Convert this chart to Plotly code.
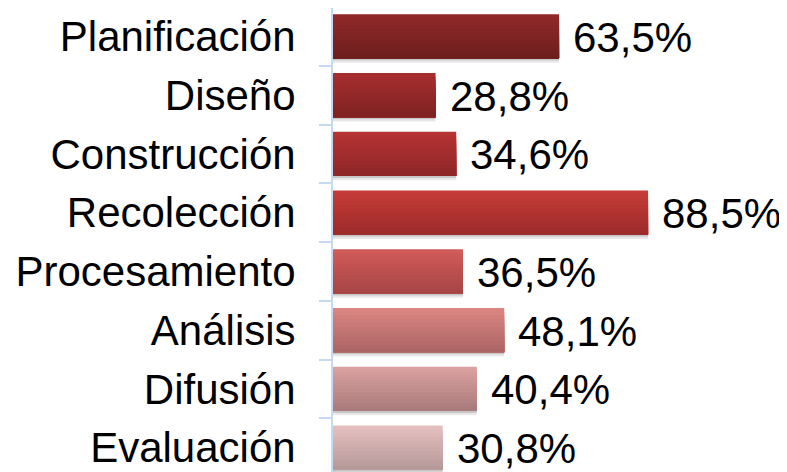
import plotly.graph_objects as go

categories = ["Planificación", "Diseño", "Construcción", "Recolección",
              "Procesamiento", "Análisis", "Difusión", "Evaluación"]
values = [63.5, 28.8, 34.6, 88.5, 36.5, 48.1, 40.4, 30.8]
value_labels = ["63,5%", "28,8%", "34,6%", "88,5%", "36,5%", "48,1%", "40,4%", "30,8%"]
top_colors = ["#912a2a", "#a82e2e", "#b73434", "#c83c38", "#d35c59", "#dc8682", "#dca2a2", "#e6c0c0"]
bottom_colors = ["#6c1d1d", "#7e2222", "#8c2626", "#9a2a29", "#a54545", "#aa6464", "#a87979", "#b49898"]

def hex2rgb(h):
    h = h.lstrip("#")
    return tuple(int(h[i:i + 2], 16) for i in (0, 2, 4))

def mix(c1, c2, t):
    a, b = hex2rgb(c1), hex2rgb(c2)
    return "rgb(%d,%d,%d)" % tuple(round(a[i] + (b[i] - a[i]) * t) for i in range(3))

FONT = "Liberation Sans, Arial, sans-serif"
BAR_W = 0.75
N_BANDS = 12
fig = go.Figure()

# soft shadow under bars
for off, w, alpha in [(BAR_W / 2, 0.035, 0.22), (BAR_W / 2 + 0.035, 0.04, 0.09)]:
    fig.add_trace(go.Bar(
        y=categories, x=values, orientation="h",
        width=w, offset=off,
        marker=dict(color="rgba(0,0,0,%.2f)" % alpha, line=dict(width=0)),
        hoverinfo="skip", showlegend=False,
    ))

# gradient bars drawn as overlapping bands (top -> bottom)
bw = BAR_W / N_BANDS
for k in range(N_BANDS):
    t = (k + 0.5) / N_BANDS
    fig.add_trace(go.Bar(
        y=categories, x=values, orientation="h",
        width=BAR_W - k * bw, offset=-BAR_W / 2 + k * bw,
        marker=dict(color=[mix(tc, bc, t) for tc, bc in zip(top_colors, bottom_colors)],
                    line=dict(width=0)),
        hoverinfo="skip", showlegend=False,
    ))

for c, v, lab in zip(categories, values, value_labels):
    fig.add_annotation(x=v, y=c, text=lab, showarrow=False, xanchor="left",
                       xshift=12, yshift=-1,
                       font=dict(family=FONT, size=42, color="#000"))

fig.update_layout(
    width=779, height=464,
    margin=dict(l=325, r=98, t=0, b=0, autoexpand=False),
    barmode="overlay",
    plot_bgcolor="white", paper_bgcolor="white",
    font=dict(family=FONT, size=42, color="#000"),
    xaxis=dict(range=[0, 100], visible=False, showgrid=False, zeroline=False),
    yaxis=dict(
        type="category", categoryorder="array", categoryarray=categories,
        range=[7.415, -0.483],
        showline=True, linecolor="#c6d9f1", linewidth=2,
        ticks="outside", tickson="boundaries", ticklen=12, tickwidth=2, tickcolor="#c6d9f1",
        ticklabelstandoff=27, showgrid=False, zeroline=False, automargin=False,
        tickfont=dict(family=FONT, size=42, color="#000"),
    ),
)

fig.write_html("out.html")
